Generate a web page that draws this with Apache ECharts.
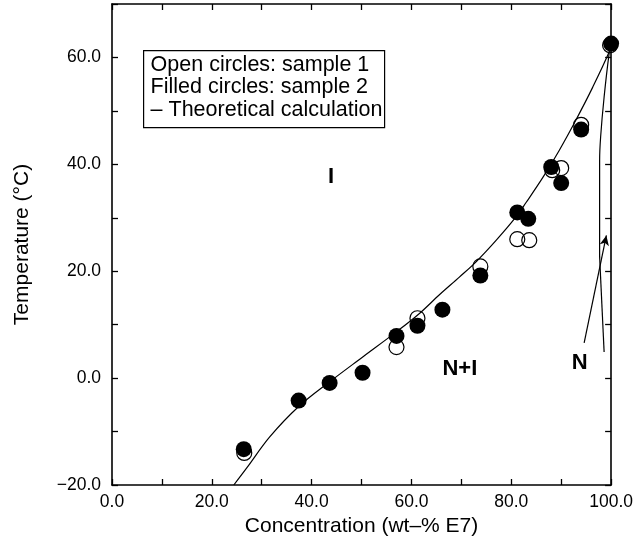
<!DOCTYPE html>
<html>
<head>
<meta charset="utf-8">
<script src="https://cdn.jsdelivr.net/npm/echarts@6/dist/echarts.min.js"></script>
<style>html,body{margin:0;padding:0;background:#fff;}#c{width:636px;height:544px;}</style>
</head>
<body>
<div id="c"></div>
<script>
// Sample 1 (open circles)
const openX = [26.5, 57, 61.2, 73.8, 81.2, 83.6, 88.2, 90, 94, 99.8];
const openY = [-14, 5.8, 11.2, 20.9, 26, 25.8, 38.9, 39.3, 47.4, 62.3];
// Sample 2 (filled circles)
const filledX = [26.4, 37.4, 43.6, 50.2, 57, 61.2, 66.2, 73.8, 81.2, 83.4, 88, 90, 94, 100];
const filledY = [-13.3, -4.2, -0.9, 1.0, 7.9, 9.8, 12.8, 19.2, 31.0, 29.8, 39.5, 36.5, 46.5, 62.6];
// Theoretical calculation: N+I / I boundary
const curveX = [24.4, 27, 31.6, 37.3, 43.6, 50.3, 56.9, 61.6, 65.6, 69.6, 73, 77, 80.9, 83, 86.3, 89.6, 92.9, 96.3, 99.6, 100];
const curveY = [-20, -16.8, -11.0, -5.4, -0.7, 4.0, 8.6, 12.1, 15.6, 18.9, 21.8, 25.8, 30.1, 32.9, 37.5, 42.6, 48.2, 54.4, 61.0, 62.5];
// Theoretical calculation: N / N+I boundary
const nLineX = [100, 99.6, 98.6, 97.9, 97.7, 97.7];
const nLineY = [62.5, 60.7, 52.6, 45.1, 40.7, 22.6];
// Region annotations
const regionText = ['I', 'N+I', 'N'];
const regionX = [43.9, 69.7, 93.7];
const regionY = [37.7, 1.8, 2.9];
// Pointer lines from "N" label
const arrowFrom = [[94.6, 6.6], [98.6, 4.9]];
const arrowTo = [[99.05, 26.7], [97.7, 22.7]];
const arrowHead = ['arrow', 'none'];
// Legend text
const legendLines = ['Open circles: sample 1', 'Filled circles: sample 2', '\u2013 Theoretical calculation'];

const FONT = '"Liberation Sans", Arial, Helvetica, sans-serif';
const zip = (xs, ys) => xs.map((x, i) => [x, ys[i]]);
const fmt = v => (v % 20 === 0) ? ((v < 0 ? '\u2212' : '') + Math.abs(v).toFixed(1)) : '';

const axisCommon = {
  axisLine: { show: true, onZero: false, lineStyle: { color: '#000', width: 1.6 } },
  axisTick: { show: true, inside: true, length: 6, lineStyle: { color: '#000', width: 1.3 } },
  splitLine: { show: false }
};

const chart = echarts.init(document.getElementById('c'), null, { renderer: 'canvas' });
chart.setOption({
  animation: false,
  backgroundColor: '#fff',
  grid: { left: 112, right: 24, top: 4, bottom: 59, containLabel: false },
  xAxis: [
    Object.assign({
      type: 'value', min: 0, max: 100, interval: 10, position: 'bottom',
      name: 'Concentration (wt\u2013% E7)', nameLocation: 'middle', nameGap: 28,
      nameTextStyle: { fontFamily: FONT, fontSize: 21, color: '#000' },
      axisLabel: { formatter: fmt, fontFamily: FONT, fontSize: 17.5, color: '#000', margin: 8 }
    }, axisCommon),
    Object.assign({
      type: 'value', min: 0, max: 100, interval: 10, position: 'top',
      axisLabel: { show: false }
    }, axisCommon)
  ],
  yAxis: [
    Object.assign({
      type: 'value', min: -20, max: 70, interval: 10, position: 'left',
      name: 'Temperature (\u00B0C)', nameLocation: 'middle', nameGap: 79,
      nameTextStyle: { fontFamily: FONT, fontSize: 21, color: '#000' },
      axisLabel: { formatter: fmt, fontFamily: FONT, fontSize: 17.5, color: '#000', margin: 11 }
    }, axisCommon),
    Object.assign({
      type: 'value', min: -20, max: 70, interval: 10, position: 'right',
      axisLabel: { show: false }
    }, axisCommon)
  ],
  series: [
    {
      type: 'line', name: 'theory', data: zip(curveX, curveY), showSymbol: false, symbol: 'none',
      smooth: 0.35, lineStyle: { color: '#000', width: 1.2 }, z: 2,
      markLine: {
        silent: true, symbolSize: [7, 10], animation: false,
        lineStyle: { color: '#000', width: 1.2, type: 'solid' },
        itemStyle: { color: '#000' },
        label: { show: false },
        data: arrowFrom.map((f, i) => [
          { coord: f, symbol: 'none' },
          { coord: arrowTo[i], symbol: arrowHead[i] }
        ])
      }
    },
    {
      type: 'line', name: 'theoryN', data: zip(nLineX, nLineY), showSymbol: false, symbol: 'none',
      smooth: 0.2, lineStyle: { color: '#000', width: 1.2 }, z: 2
    },
    {
      type: 'scatter', name: 'sample 1', data: zip(openX, openY), symbol: 'circle', symbolSize: 15,
      itemStyle: { color: 'rgba(255,255,255,0)', borderColor: '#000', borderWidth: 1.2, opacity: 1 }, z: 3
    },
    {
      type: 'scatter', name: 'sample 2', data: zip(filledX, filledY), symbol: 'circle', symbolSize: 16,
      itemStyle: { color: '#000', borderColor: '#000', borderWidth: 0, opacity: 1 }, z: 4
    },
    {
      type: 'scatter', name: 'regions', symbolSize: 1, silent: true, z: 5,
      itemStyle: { color: 'rgba(0,0,0,0)', opacity: 1 },
      data: regionText.map((t, i) => ({ name: t, value: [regionX[i], regionY[i]] })),
      label: {
        show: true, position: 'inside', formatter: p => p.name, opacity: 1,
        fontFamily: FONT, fontSize: 22, fontWeight: 'bold', color: '#000'
      }
    }
  ],
  graphic: [
    {
      type: 'group', left: 143, top: 50,
      children: [
        { type: 'rect', shape: { x: 0, y: 0, width: 241, height: 77 },
          style: { fill: '#fff', stroke: '#000', lineWidth: 1.2 } }
      ].concat(legendLines.map((t, i) => ({
        type: 'text', x: 7, y: 14 + i * 22.5,
        style: { text: t, fontFamily: FONT, fontSize: 21.5, fill: '#000', verticalAlign: 'middle', align: 'left' }
      })))
    }
  ]
});
</script>
</body>
</html>
